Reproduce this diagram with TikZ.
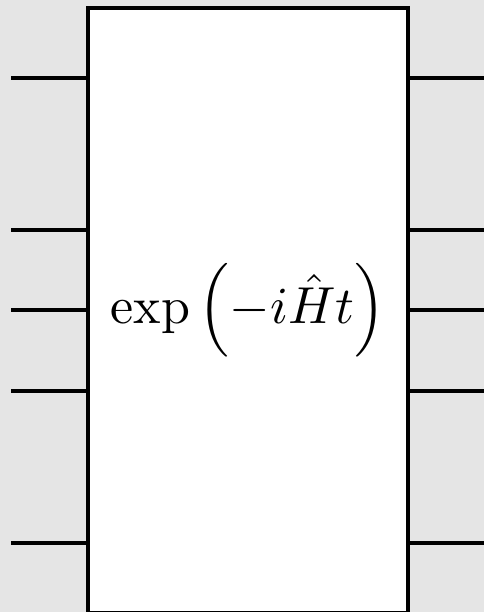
\documentclass[tikz,border=0pt]{standalone}
\usepackage{amsmath,amssymb}
\usepackage{xcolor}
\usepackage{tikz}
\usetikzlibrary{calc}
\definecolor{bggray}{HTML}{E5E5E5}
\tikzset{
  wire/.style={
    line width=4pt,
  },
  gate/.style={
    draw,
    fill=white,
    line width=4pt,
    shape=rectangle,
    inner sep=0pt,
    minimum width=320pt,
    minimum height=605pt,
  },
  gatelabel/.style={
    scale=5.2,
    inner sep=0pt,
  }
}

\begin{document}
\begin{tikzpicture}[x=1pt,y=-1pt]
        \clip (0,0) rectangle (484,612);
        \fill[bggray] (0,0) rectangle (484,612);
        \node[gate] (U) at (248,310.5) {};
        \node[gatelabel] (lab) at (U.center) {$\exp\,\Bigl(-i\hat{H}t\Bigr)$};
        % wires in
        \coordinate (in1) at (11,78);
        \coordinate (in2) at (11,229.5);
        \coordinate (in3) at (11,310);
        \coordinate (in4) at (11,391);
        \coordinate (in5) at (11,543);
        \draw[wire] (in1) -- (in1 -| U.west);
        \draw[wire] (in2) -- (in2 -| U.west);
        \draw[wire] (in3) -- (in3 -| U.west);
        \draw[wire] (in4) -- (in4 -| U.west);
        \draw[wire] (in5) -- (in5 -| U.west);
        % wires out
        \coordinate (out1) at (484,78);
        \coordinate (out2) at (484,229.5);
        \coordinate (out3) at (484,310);
        \coordinate (out4) at (484,391);
        \coordinate (out5) at (484,543);
        \draw[wire] (U.east |- out1) -- (out1);
        \draw[wire] (U.east |- out2) -- (out2);
        \draw[wire] (U.east |- out3) -- (out3);
        \draw[wire] (U.east |- out4) -- (out4);
        \draw[wire] (U.east |- out5) -- (out5);
    \end{tikzpicture}
\end{document}
